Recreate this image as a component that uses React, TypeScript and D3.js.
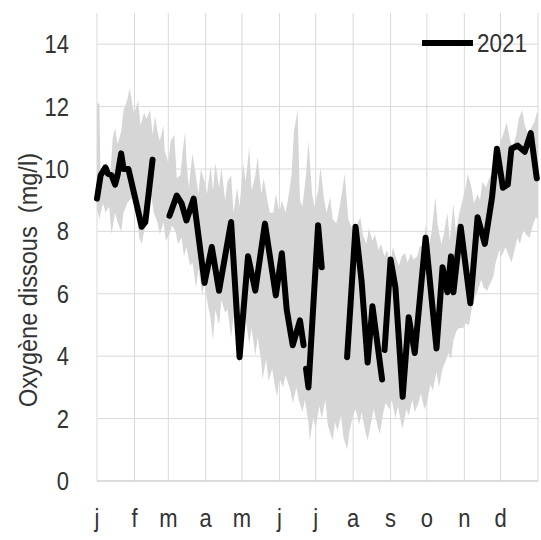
import React from "react";
import * as d3 from "d3";

// ---- data ----
const monthLabels = ["j", "f", "m", "a", "m", "j", "j", "a", "s", "o", "n", "d"];
const monthStartDays = [0, 31, 59, 90, 120, 151, 181, 212, 243, 273, 304, 334];
const yTicks = [0, 2, 4, 6, 8, 10, 12, 14];
const seriesName = "2021";
const yTitle = "Oxygène dissous  (mg/l)";

// envelope (min / max of previous years), day of year -> mg/l
const upperDays = [0, 2, 3, 6, 8, 11, 13, 15, 17, 20, 22, 25, 27, 30, 31, 34, 36, 39, 41, 44, 46, 48, 50, 52, 55, 56, 59, 61, 64, 66, 69, 71, 73, 74, 76, 79, 81, 84, 86, 89, 91, 94, 96, 98, 101, 103, 106, 108, 111, 113, 116, 118, 121, 123, 126, 128, 131, 133, 136, 138, 141, 143, 146, 148, 151, 153, 156, 158, 161, 163, 166, 168, 170, 173, 175, 178, 180, 183, 185, 188, 190, 193, 195, 198, 200, 203, 205, 208, 210, 213, 215, 218, 220, 223, 225, 228, 230, 233, 235, 238, 240, 243, 245, 247, 250, 252, 255, 257, 260, 262, 265, 267, 270, 272, 275, 277, 280, 282, 285, 287, 290, 292, 295, 297, 300, 302, 305, 307, 310, 312, 315, 317, 319, 322, 324, 327, 329, 332, 334, 337, 339, 342, 344, 347, 349, 352, 354, 357, 359, 362, 364, 365];
const upperValues = [12.1, 12.1, 9.5, 10.0, 10.2, 9.8, 11.0, 11.3, 10.8, 11.2, 11.9, 12.2, 12.6, 11.9, 11.8, 12.2, 11.4, 11.8, 11.6, 11.9, 11.1, 11.7, 11.2, 10.9, 11.4, 10.6, 10.2, 10.9, 11.1, 9.7, 9.8, 10.6, 11.2, 10.3, 9.4, 10.5, 10.0, 9.2, 10.0, 9.6, 9.2, 10.1, 9.3, 10.2, 9.4, 10.05, 9.0, 9.6, 9.8, 8.6, 9.4, 8.8, 10.2, 9.6, 10.7, 9.3, 9.8, 10.4, 9.2, 9.7, 9.0, 8.6, 8.6, 9.2, 8.6, 9.0, 8.6, 9.0, 9.8, 11.2, 11.9, 9.0, 8.8, 9.8, 10.9, 9.2, 8.8, 9.3, 10.05, 9.0, 8.6, 9.1, 8.4, 8.25, 8.6, 9.3, 9.85, 8.4, 8.2, 7.9, 8.2, 8.45, 7.9, 7.6, 8.1, 7.7, 7.9, 7.4, 7.6, 7.2, 7.4, 7.0, 7.5, 7.2, 6.9, 7.2, 7.3, 7.0, 7.3, 7.1, 7.2, 7.5, 7.6, 8.2, 7.6, 8.0, 9.1, 8.2, 7.6, 7.9, 8.6, 7.7, 8.9, 8.0, 8.6, 8.9, 9.4, 9.85, 9.4, 8.9, 9.2, 9.0, 9.6, 9.4, 9.65, 9.9, 10.2, 10.5, 10.9, 11.2, 11.5, 10.9, 10.7, 11.1, 11.6, 11.9, 11.4, 11.1, 11.3, 11.5, 11.8, 11.8];
const lowerDays = [0, 2, 5, 7, 10, 12, 15, 17, 20, 22, 25, 27, 30, 32, 35, 37, 40, 42, 45, 47, 50, 52, 55, 57, 60, 62, 65, 67, 70, 72, 74, 77, 79, 82, 84, 87, 89, 92, 94, 96, 98, 101, 103, 106, 108, 111, 113, 116, 118, 121, 123, 126, 128, 131, 133, 136, 137, 140, 142, 145, 147, 149, 151, 154, 156, 160, 162, 165, 167, 170, 172, 175, 176, 179, 181, 184, 186, 189, 191, 195, 197, 199, 202, 204, 207, 209, 212, 214, 217, 219, 222, 224, 227, 229, 232, 234, 237, 239, 242, 244, 247, 249, 252, 253, 256, 258, 261, 263, 266, 268, 271, 273, 276, 278, 281, 283, 286, 288, 291, 293, 295, 298, 300, 303, 305, 308, 310, 313, 315, 318, 320, 323, 325, 328, 330, 333, 335, 338, 340, 343, 345, 348, 350, 353, 355, 358, 360, 363, 365];
const lowerValues = [8.7, 8.4, 8.9, 8.6, 8.8, 7.9, 8.6, 8.3, 8.0, 8.6, 8.9, 9.0, 9.1, 8.8, 7.8, 7.6, 8.2, 8.9, 9.1, 8.6, 8.3, 7.9, 8.3, 7.7, 7.9, 8.2, 8.0, 7.6, 7.8, 7.2, 7.5, 6.9, 7.0, 6.2, 6.8, 6.0, 6.3, 5.6, 5.2, 4.5, 5.5, 5.0, 5.8, 5.4, 5.5, 4.6, 5.3, 4.3, 3.8, 4.6, 5.2, 4.4, 4.9, 4.0, 4.6, 3.8, 3.25, 3.9, 3.2, 3.6, 3.1, 2.7, 3.3, 3.0, 3.4, 2.9, 2.5, 3.0, 2.6, 2.2, 2.6, 1.9, 1.3, 2.0, 1.7, 2.4, 2.0, 2.6, 1.8, 1.3, 1.9, 1.6, 2.1, 1.4, 1.0, 1.6, 2.1, 2.3, 1.8, 2.2, 1.6, 1.3, 1.9, 2.3, 1.8, 1.5, 2.2, 2.5, 2.3, 2.6, 2.0, 2.4, 1.8, 1.7, 2.3, 2.1, 2.6, 2.2, 2.5, 2.8, 2.3, 2.5, 3.1, 2.9, 3.5, 3.0, 3.6, 3.8, 4.1, 3.9, 4.5, 4.85, 4.9, 4.9, 5.05, 5.0, 5.5, 5.9, 6.1, 6.45, 6.2, 6.1, 6.3, 6.55, 7.0, 7.4, 7.2, 7.5, 7.3, 7.0, 7.3, 7.8, 7.6, 8.05, 7.9, 7.8, 8.1, 8.45, 8.4];

// 2021 measurements (null = no data)
const days2021 = [0, 3, 7, 9, 12, 15, 17, 20, 22, 26, 32, 37, 40, 46, 53, 60, 66, 70, 74, 80, 89, 95, 101, 111, 118, 125, 131, 139, 148, 153, 157, 162, 168, 171, 172, 173, 175, 183, 186, 196, 207, 214, 219, 224, 228, 236, 237, 238, 243, 247, 253, 258, 263, 272, 281, 286, 290, 293, 295, 301, 309, 315, 321, 327, 331, 336, 340, 343, 348, 354, 359, 364];
const values2021: (number | null)[] = [9.05, 9.8, 10.05, 9.85, 9.8, 9.5, 9.8, 10.5, 10.0, 10.0, 9.0, 8.15, 8.3, 10.3, null, 8.5, 9.15, 8.9, 8.35, 9.05, 6.35, 7.5, 6.1, 8.3, 3.97, 7.2, 6.1, 8.25, 5.95, 7.3, 5.5, 4.35, 5.15, 4.35, null, 3.6, 3.0, 8.2, 6.85, null, 3.97, 8.15, 6.4, 3.8, 5.6, 3.25, null, 4.2, 7.1, 6.2, 2.7, 5.25, 4.1, 7.8, 4.25, 6.85, 6.05, 7.2, 6.05, 8.15, 5.7, 8.45, 7.6, 9.1, 10.65, 9.4, 9.5, 10.65, 10.75, 10.55, 11.15, 9.7];

// ---- layout ----
const W = 541;
const H = 540;
const M = { left: 97, right: 3, top: 13, bottom: 59 };
const FONT = "'Liberation Sans', Arial, sans-serif";
const TXT = "#333333";
const GRID = "#d9d9d9";

export default function App() {
  const x = d3.scaleLinear().domain([0, 365]).range([M.left, W - M.right]);
  const y = d3.scaleLinear().domain([0, 15]).range([H - M.bottom, M.top]);

  const bandPts: [number, number][] = [
    ...upperDays.map((d, i) => [d, upperValues[i]] as [number, number]),
    ...lowerDays.map((d, i) => [d, lowerValues[i]] as [number, number]).reverse(),
  ];
  const bandPath =
    d3
      .line<[number, number]>()
      .x((p) => x(p[0]))
      .y((p) => y(p[1]))(bandPts) + "Z";

  const linePts = days2021.map((d, i) => ({ d, v: values2021[i] }));
  const linePath = d3
    .line<{ d: number; v: number | null }>()
    .defined((p) => p.v !== null)
    .x((p) => x(p.d))
    .y((p) => y(p.v as number))(linePts) || "";

  const gridX = [...monthStartDays, 365];

  return (
    <svg width={W} height={H} style={{ display: "block", position: "absolute", left: 0, top: 0 }}>
      <rect width={W} height={H} fill="#ffffff" />
      {/* grid */}
      {yTicks.filter((t) => t > 0).map((t) => (
        <line key={"gy" + t} x1={x(0)} x2={x(365)} y1={y(t)} y2={y(t)} stroke={GRID} strokeWidth={1} />
      ))}
      {gridX.map((d) => (
        <line key={"gx" + d} x1={x(d)} x2={x(d)} y1={y(15)} y2={y(0)} stroke={GRID} strokeWidth={1} />
      ))}
      {/* envelope */}
      <path d={bandPath} fill="#d6d6d6" stroke="none" />
      {/* axis line */}
      <line x1={x(0)} x2={x(365)} y1={y(0)} y2={y(0)} stroke="#d0d0d0" strokeWidth={1.5} />
      {/* 2021 line */}
      <path d={linePath} fill="none" stroke="#000" strokeWidth={6} strokeLinejoin="round" strokeLinecap="round" />
      {/* y tick labels */}
      {yTicks.map((t) => (
        <text
          key={"yt" + t}
          transform={`translate(69,${y(t) + 9}) scale(0.88,1)`}
          textAnchor="end"
          fontFamily={FONT}
          fontSize={25}
          fill={TXT}
        >
          {t}
        </text>
      ))}
      {/* x labels */}
      {monthLabels.map((m, i) => (
        <text
          key={"xl" + i}
          transform={`translate(${x(monthStartDays[i])},527) scale(0.88,1)`}
          textAnchor="middle"
          fontFamily={FONT}
          fontSize={25}
          fill={TXT}
        >
          {m}
        </text>
      ))}
      {/* y title */}
      <text
        transform={`translate(37,280) rotate(-90)`}
        textAnchor="middle"
        fontFamily={FONT}
        fontSize={25}
        fill={TXT}
        textLength={254}
        lengthAdjust="spacingAndGlyphs"
        style={{ whiteSpace: "pre" }}
      >
        {yTitle}
      </text>
      {/* legend */}
      <line x1={422} x2={473} y1={43} y2={43} stroke="#000" strokeWidth={6} />
      <text x={477} y={52} fontFamily={FONT} fontSize={25} fill={TXT} textLength={50} lengthAdjust="spacingAndGlyphs">
        {seriesName}
      </text>
    </svg>
  );
}
